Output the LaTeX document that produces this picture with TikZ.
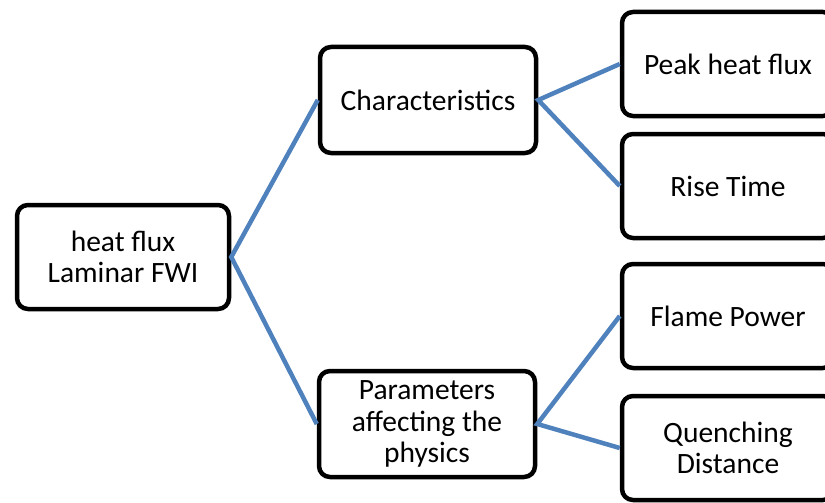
\documentclass[tikz,border=0pt]{standalone}
\usepackage{fontspec}
\setmainfont{Carlito}
\usetikzlibrary{positioning}
\definecolor{edge}{RGB}{79,129,189}
\tikzset{
  box/.style={draw=black,line width=4.5pt,rounded corners=11pt,fill=white,
    align=center,font=\fontsize{29.5}{31.5}\selectfont,inner sep=2pt},
  rootbox/.style={box,minimum width=212pt,minimum height=104pt},
  midbox/.style={box,minimum width=216pt,minimum height=106pt},
  leafbox/.style={box,minimum width=212pt,minimum height=104pt},
  link/.style={edge,line width=4.5pt}
}
\begin{document}
\begin{tikzpicture}[x=1pt,y=-1pt]
    \useasboundingbox (0,0) rectangle (825,503);
    \clip (0,0) rectangle (825,503);
    \node[rootbox] (root) at (123,257) {heat flux\\Laminar FWI};
    \node[midbox] (charac) at (428,100) {Characteristics};
    \node[midbox] (param) at (427,424) {Parameters\\affecting the\\physics};
    \foreach \y/\name/\lbl in {
      64/peak/{Peak heat flux},
      186/rise/{Rise Time},
      316/flame/{Flame Power},
      448/quench/{Quenching\\Distance}}{
      \node[leafbox] (\name) at (728,\y) {\lbl};
    }
    % connectors
    \draw[link] (charac.west) -- (root.east) -- (param.west);
    \draw[link] (peak.west) -- (charac.east) -- (rise.west);
    \draw[link] (flame.west) -- (param.east) -- (quench.west);
  \end{tikzpicture}
\end{document}
